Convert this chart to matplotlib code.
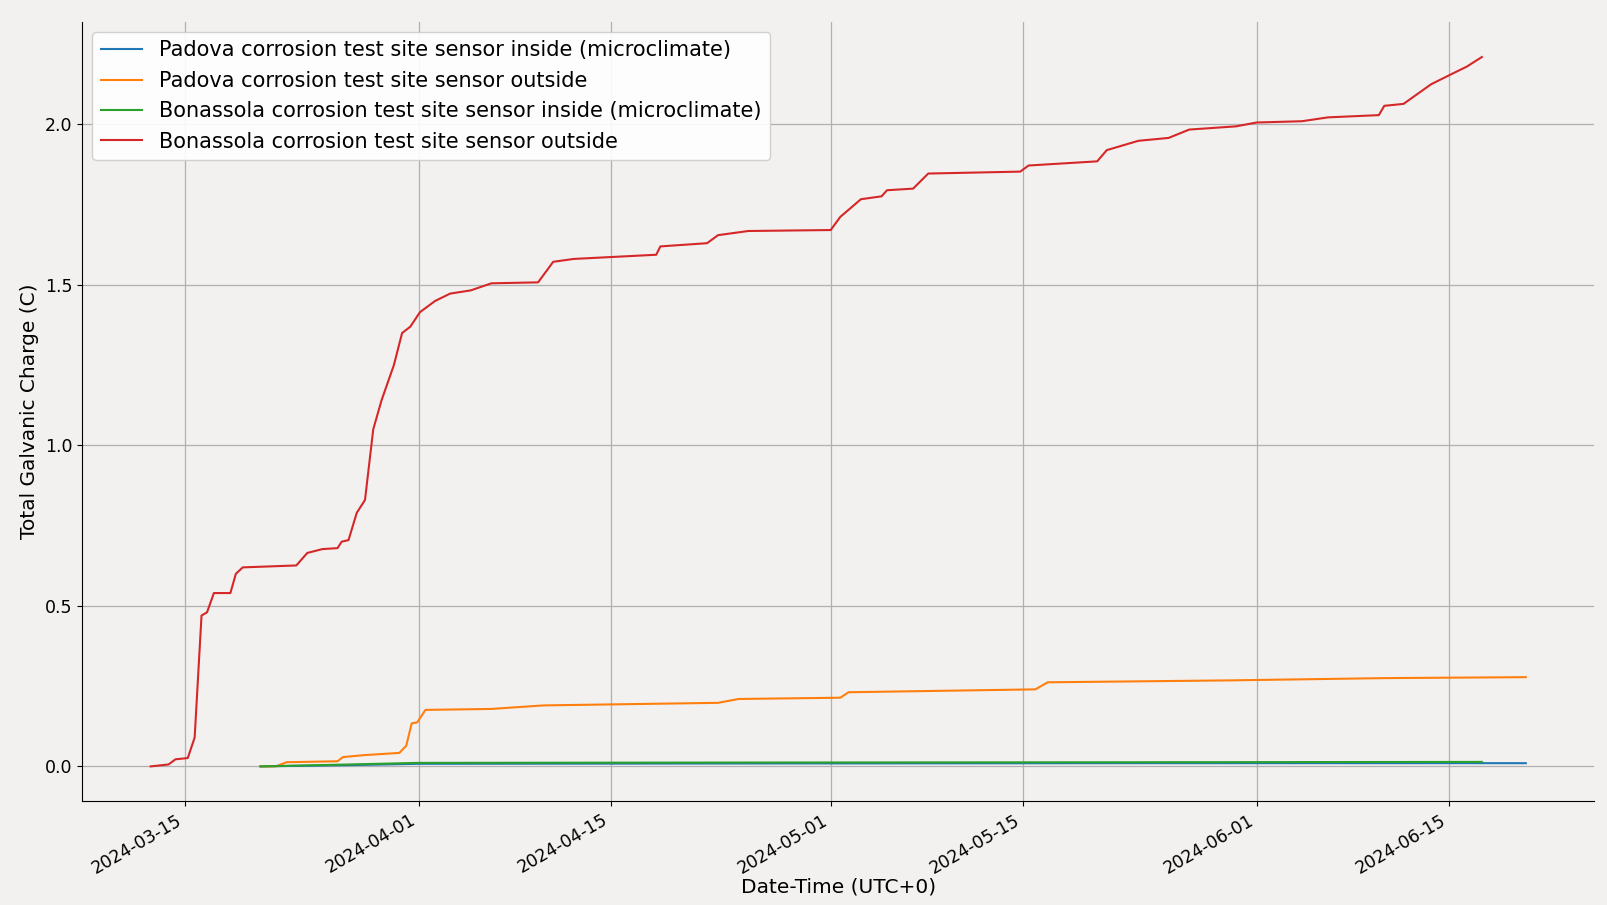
import datetime as dt
import matplotlib
matplotlib.use("Agg")
import matplotlib.pyplot as plt
import matplotlib.dates as mdates

base = dt.datetime(2024, 3, 15)

# (days after 2024-03-15, charge in C)
red_days = [-2.5, -1.2, -0.7, 0.2, 0.7, 1.2, 1.6, 2.1, 3.3, 3.7, 4.2, 8.1, 8.9, 10.0, 11.1, 11.4,
            11.9, 12.5, 13.1, 13.7, 14.3, 15.2, 15.8, 16.4, 17.1, 18.2, 19.3, 20.8, 22.3, 25.7,
            26.8, 28.3, 34.3, 34.6, 38.0, 38.8, 41.0, 47.0, 47.7, 49.2, 50.7, 51.1, 53.0, 54.1,
            60.8, 61.4, 66.4, 67.1, 69.4, 71.6, 73.1, 76.5, 78.0, 81.3, 83.2, 86.9, 87.3, 88.7,
            90.7, 92.2, 93.3, 94.4]
red_vals = [0, 0.006, 0.022, 0.026, 0.09, 0.47, 0.48, 0.54, 0.54, 0.60, 0.62, 0.626, 0.665, 0.677,
            0.68, 0.70, 0.705, 0.79, 0.83, 1.05, 1.14, 1.25, 1.35, 1.37, 1.415, 1.45, 1.473, 1.483,
            1.505, 1.508, 1.572, 1.581, 1.594, 1.62, 1.63, 1.655, 1.668, 1.671, 1.712, 1.767,
            1.776, 1.795, 1.80, 1.847, 1.853, 1.872, 1.885, 1.92, 1.949, 1.958, 1.984, 1.994,
            2.006, 2.01, 2.022, 2.029, 2.058, 2.064, 2.125, 2.157, 2.18, 2.21]

orange_days = [5.5, 6.6, 7.4, 11.1, 11.5, 13.0, 15.6, 16.1, 16.5, 16.9, 17.5, 22.3, 26.1, 38.8,
               40.3, 47.7, 48.3, 61.9, 62.8, 76.1, 87.3, 97.6]
orange_vals = [0, 0, 0.013, 0.016, 0.029, 0.035, 0.042, 0.064, 0.134, 0.137, 0.176, 0.179, 0.19,
               0.198, 0.21, 0.214, 0.231, 0.24, 0.262, 0.268, 0.275, 0.278]

blue_days = [5.5, 12.0, 17.0, 40.0, 70.0, 97.6]
blue_vals = [0, 0.004, 0.008, 0.009, 0.010, 0.010]

green_days = [5.5, 12.0, 17.0, 40.0, 70.0, 94.4]
green_vals = [0, 0.006, 0.011, 0.012, 0.013, 0.014]

labels = ["Padova corrosion test site sensor inside (microclimate)",
          "Padova corrosion test site sensor outside",
          "Bonassola corrosion test site sensor inside (microclimate)",
          "Bonassola corrosion test site sensor outside"]


def to_dates(days):
    return [base + dt.timedelta(days=d) for d in days]


bg = "#f2f1f0"
fig = plt.figure(figsize=(16.08, 9.05), dpi=100, facecolor=bg)
ax = fig.add_axes([0.051, 0.1145, 0.9406, 0.8615], facecolor=bg)

ax.plot(to_dates(blue_days), blue_vals, color="#1f77b4", lw=1.5, label=labels[0])
ax.plot(to_dates(orange_days), orange_vals, color="#ff7f0e", lw=1.5, label=labels[1])
ax.plot(to_dates(green_days), green_vals, color="#2ca02c", lw=1.5, label=labels[2])
ax.plot(to_dates(red_days), red_vals, color="#d62728", lw=1.5, label=labels[3])

ax.set_xlim(base - dt.timedelta(days=7.5), base + dt.timedelta(days=102.6))
ax.set_ylim(-0.109, 2.32)
ax.set_yticks([0.0, 0.5, 1.0, 1.5, 2.0])
ax.xaxis.set_major_locator(mdates.DayLocator(bymonthday=[1, 15]))
ax.xaxis.set_major_formatter(mdates.DateFormatter("%Y-%m-%d"))
plt.setp(ax.get_xticklabels(), rotation=30, ha="right")
ax.tick_params(labelsize=12.5)
ax.grid(True, color="#b0b0b0", lw=0.9)
ax.spines["top"].set_visible(False)
ax.spines["right"].set_visible(False)

ax.set_xlabel("Date-Time (UTC+0)", fontsize=14.5, labelpad=0)
ax.set_ylabel("Total Galvanic Charge (C)", fontsize=14.5)
ax.legend(loc="upper left", fontsize=15, framealpha=0.9, facecolor="white")

fig.savefig("out.png", facecolor=bg)
